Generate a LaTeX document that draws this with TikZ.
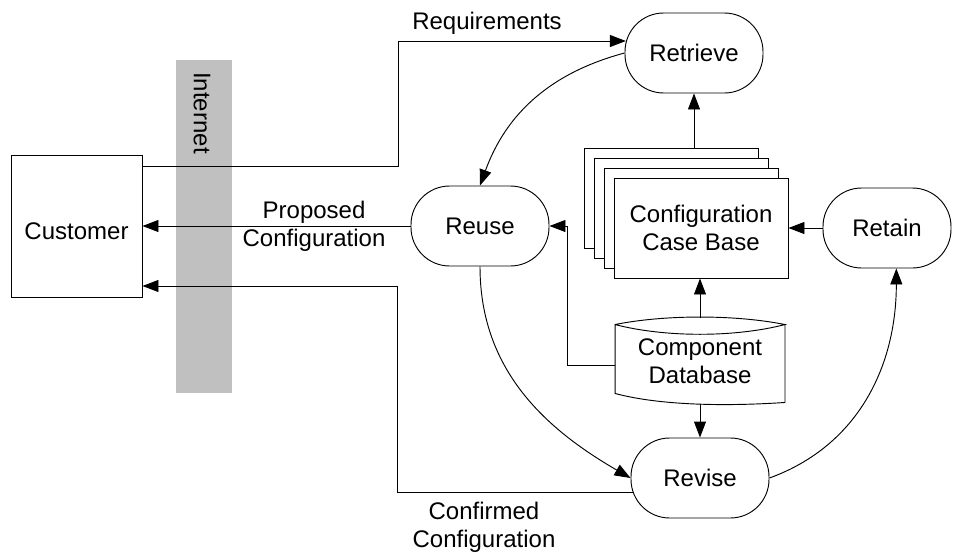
\documentclass[tikz,border=0pt]{standalone}
\usepackage{fontspec}
\setmainfont{Liberation Sans}
\usetikzlibrary{arrows.meta,calc,positioning}
\definecolor{netgray}{RGB}{192,192,192}

\begin{document}
\begin{tikzpicture}[
  x=0.75pt, y=0.75pt, line width=0.7pt,
  font=\fontsize{18}{21}\selectfont,
  every node/.style={align=center, inner sep=0pt},
  phase/.style={draw, rounded corners=29pt, minimum width=103.5pt, minimum height=60pt},
  sheet/.style={draw, fill=white, minimum width=130.5pt, minimum height=75pt},
  arrow/.style={-{Triangle[length=12pt, width=9pt]}}
]
\useasboundingbox (0,0) rectangle (953,-553);
\node[fill=netgray, minimum width=42pt, minimum height=249.75pt] (inet) at (204,-226.5) {};
\node[rotate=-90] (inetlbl) at (202,-113) {Internet};
\node[draw, minimum width=98.25pt, minimum height=106.5pt, text height=20.5pt] (cust) at (76.5,-226) {Customer};
\node[phase] (retrieve) at (694,-53) {Retrieve};
\node[phase] (reuse) at (480,-226) {Reuse};
\node[phase] (revise) at (700,-478) {Revise};
\node[phase, minimum width=96pt] (retain) at (887,-228) {Retain};
\foreach \k in {3,2,1}
  \node[sheet] (cb\k) at ({701-10*\k},{-228+10*\k}) {};
\node[sheet] (cb) at (701,-228) {Configuration\\Case Base};
\node[minimum width=126.75pt, minimum height=64.5pt] (db) at (700,-361) {Component\\Database};
\draw ($(db.north west)+(0,-7)$) coordinate (dbtl)
  .. controls +(50,10) and +(-50,10) .. ($(db.north east)+(0,-7)$) coordinate (dbtr)
  .. controls +(-50,-13) and +(50,-13) .. (dbtl)
  -- ($(db.south west)+(0,11)$)
  .. controls +(45,-12) and +(-60,-4) .. ($(db.south east)+(0,2)$)
  -- (dbtr);
\node (reqlbl) at (487,-23) {Requirements};
\node (cfglbl) at (484,-527) {Confirmed\\Configuration};
\coordinate (reqbend) at (398,-41);
\coordinate (cfgbend) at (397,-286);

\draw[arrow] (retrieve.west) to[out=195, in=70] (reuse.north);
\draw[arrow] (reuse.south) to[out=-90, in=150] (revise.west);
\draw[arrow] (revise.east) to[out=20, in=-90] ([xshift=7pt]retain.south);
\draw[arrow] (cb3.north -| retrieve.south) -- (retrieve.south);
\draw[arrow] (retain.west) -- (cb.east);
\draw[arrow] (db.north) -- (db.north |- cb.south);
\draw[arrow] (db.south) -- (revise.north);
\draw[arrow] ([yshift=-3pt]db.west) -- ++(-48,0) |- (reuse.east);
\draw[arrow] ([yshift=45pt]cust.east) -| (reqbend) -- ([yshift=9pt, xshift=1pt]retrieve.west);
\draw[arrow] (reuse.west) -- node[pos=0.36] (proplbl) {Proposed\\Configuration} (cust.east);
\draw[arrow] ([yshift=-11pt, xshift=1.5pt]revise.west) -| (cfgbend) -- ([yshift=-45pt]cust.east);
\end{tikzpicture}
\end{document}
